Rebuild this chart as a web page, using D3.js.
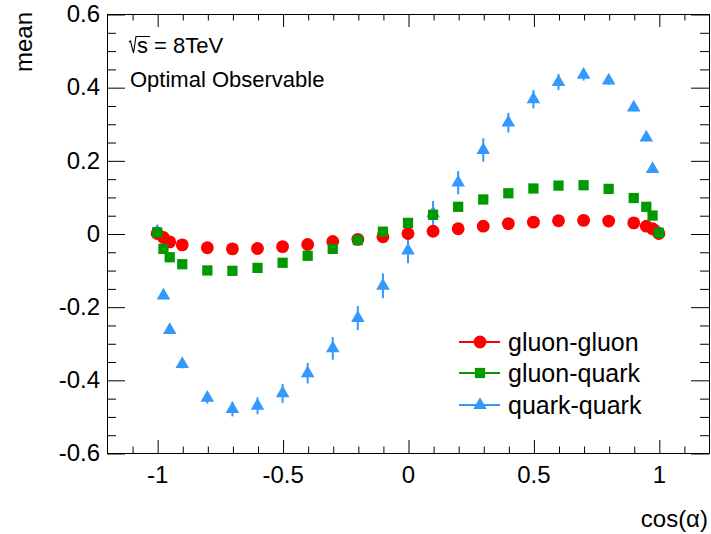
<!DOCTYPE html>
<html>
<head>
<meta charset="utf-8">
<script src="https://cdn.jsdelivr.net/npm/d3@7"></script>
<style>
  html, body { margin: 0; padding: 0; background: #fff; }
  svg { display: block; font-family: "Liberation Sans", Arial, Helvetica, sans-serif; }
</style>
</head>
<body>
<svg id="chart" width="711" height="534"></svg>
<script>
// cos(alpha) sampling points shared by all three processes
const cosAlpha = [-1, -0.975, -0.95, -0.9, -0.8, -0.7, -0.6, -0.5, -0.4, -0.3, -0.2, -0.1,
                  0, 0.1, 0.2, 0.3, 0.4, 0.5, 0.6, 0.7, 0.8, 0.9, 0.95, 0.975, 1];

// mean of the optimal observable per process
const gluonGluon = [0.000, -0.011, -0.023, -0.031, -0.039, -0.042, -0.041, -0.036, -0.030, -0.022, -0.016, -0.009,
                    0.000, 0.006, 0.013, 0.020, 0.027, 0.031, 0.035, 0.036, 0.034, 0.029, 0.020, 0.013, 0.000];
const gluonQuark = [0.003, -0.042, -0.065, -0.084, -0.101, -0.102, -0.094, -0.080, -0.061, -0.042, -0.018, 0.005,
                    0.029, 0.051, 0.073, 0.093, 0.110, 0.123, 0.131, 0.132, 0.122, 0.097, 0.073, 0.049, 0.002];
const quarkQuark = [0.005, -0.170, -0.264, -0.357, -0.449, -0.480, -0.471, -0.437, -0.382, -0.314, -0.231, -0.143,
                    -0.047, 0.055, 0.139, 0.228, 0.303, 0.367, 0.414, 0.434, 0.418, 0.344, 0.262, 0.176, 0.003];

// statistical uncertainties
const gluonGluonErr = [0.002, 0.002, 0.002, 0.002, 0.002, 0.002, 0.002, 0.002, 0.002, 0.002, 0.002, 0.002,
                       0.002, 0.002, 0.002, 0.002, 0.002, 0.002, 0.002, 0.002, 0.002, 0.002, 0.002, 0.002, 0.002];
const gluonQuarkErr = [0.004, 0.004, 0.004, 0.004, 0.004, 0.004, 0.004, 0.004, 0.004, 0.004, 0.004, 0.004,
                       0.004, 0.004, 0.004, 0.004, 0.004, 0.004, 0.004, 0.004, 0.004, 0.004, 0.004, 0.004, 0.004];
const quarkQuarkErr = [0.012, 0.010, 0.010, 0.012, 0.016, 0.020, 0.023, 0.026, 0.028, 0.031, 0.033, 0.034,
                       0.034, 0.034, 0.032, 0.032, 0.027, 0.025, 0.022, 0.016, 0.012, 0.010, 0.010, 0.010, 0.012];

const xTicks = [-1, -0.5, 0, 0.5, 1];
const xTickLabels = ["-1", "-0.5", "0", "0.5", "1"];
const yTicks = [-0.6, -0.4, -0.2, 0, 0.2, 0.4, 0.6];
const yTickLabels = ["-0.6", "-0.4", "-0.2", "0", "0.2", "0.4", "0.6"];

const seriesNames = ["gluon-gluon", "gluon-quark", "quark-quark"];
const seriesColors = ["#ff0000", "#009900", "#3399ff"];
const seriesShapes = [d3.symbolCircle, d3.symbolSquare, d3.symbolTriangle];
const seriesValues = [gluonGluon, gluonQuark, quarkQuark];
const seriesErrors = [gluonGluonErr, gluonQuarkErr, quarkQuarkErr];

const frame = { left: 107, right: 709, top: 14, bottom: 453 };

const svg = d3.select("#chart");

const x = d3.scaleLinear().domain([-1.2, 1.2]).range([frame.left, frame.right]);
const y = d3.scaleLinear().domain([-0.6, 0.6]).range([frame.bottom, frame.top]);

const xMinor = d3.range(-11, 12).map(i => i / 10).filter(v => !xTicks.some(t => Math.abs(t - v) < 1e-9));
const yMinor = d3.range(-12, 13).map(i => i / 20).filter(v => !yTicks.some(t => Math.abs(t - v) < 1e-9));

const axesG = svg.append("g");

// inward ticks on all four sides of the frame
function tickAxis(axisGen, scale, ticks, len, transform) {
  const g = axesG.append("g").attr("transform", transform)
    .call(axisGen(scale).tickValues(ticks).tickSize(len).tickFormat(""));
  g.select(".domain").remove();
  g.selectAll("line").attr("stroke", "#000").attr("stroke-width", 1);
  return g;
}

// bottom and top
tickAxis(d3.axisTop, x, xTicks, 13, `translate(0.5,${frame.bottom})`);
tickAxis(d3.axisTop, x, xMinor, 6.5, `translate(0.5,${frame.bottom})`);
tickAxis(d3.axisBottom, x, xTicks, 13, `translate(0.5,${frame.top})`);
tickAxis(d3.axisBottom, x, xMinor, 6.5, `translate(0.5,${frame.top})`);
// left and right
tickAxis(d3.axisRight, y, yTicks, 18, `translate(${frame.left},0.5)`);
tickAxis(d3.axisRight, y, yMinor, 9, `translate(${frame.left},0.5)`);
tickAxis(d3.axisLeft, y, yTicks, 18, `translate(${frame.right},0.5)`);
tickAxis(d3.axisLeft, y, yMinor, 9, `translate(${frame.right},0.5)`);

// frame box
axesG.append("rect")
  .attr("x", frame.left + 0.5).attr("y", frame.top + 0.5)
  .attr("width", frame.right - frame.left).attr("height", frame.bottom - frame.top)
  .attr("fill", "none").attr("stroke", "#000").attr("stroke-width", 1);

// tick labels
const xLab = d3.axisBottom(x).tickValues(xTicks).tickSize(0).tickPadding(13)
  .tickFormat((d, i) => xTickLabels[i]);
const gxl = svg.append("g").attr("transform", `translate(0,${frame.bottom})`).call(xLab);
gxl.select(".domain").remove();
gxl.selectAll("text").attr("font-size", 24).attr("fill", "#000")
  .attr("font-family", "Liberation Sans, Arial, sans-serif");

const yLab = d3.axisLeft(y).tickValues(yTicks).tickSize(0).tickPadding(7)
  .tickFormat((d, i) => yTickLabels[i]);
const gyl = svg.append("g").attr("transform", `translate(${frame.left},0)`).call(yLab);
gyl.select(".domain").remove();
gyl.selectAll("text").attr("font-size", 24).attr("fill", "#000")
  .attr("font-family", "Liberation Sans, Arial, sans-serif");

// axis titles
svg.append("text").attr("x", 708).attr("y", 527).attr("text-anchor", "end")
  .attr("font-size", 24).text("cos(α)");
svg.append("text").attr("transform", "translate(32,12) rotate(-90)")
  .attr("text-anchor", "end").attr("font-size", 24).text("mean");

// annotations
const sqrtG = svg.append("g").attr("transform", "translate(0,53)");
sqrtG.append("text").attr("x", 137).attr("y", 0).attr("font-size", 22).text("s = 8TeV");
sqrtG.append("path").attr("d", "M129,-11 L130.5,-12 L133.5,0 L136,-16.5 L150,-16.5")
  .attr("fill", "none").attr("stroke", "#000").attr("stroke-width", 1.1);
svg.append("text").attr("x", 130).attr("y", 87).attr("font-size", 22).text("Optimal Observable");

// data series: quark-quark first, then gluon-gluon, gluon-quark on top
const drawOrder = [2, 0, 1];
const markerSizes = [130, 105, 80];
const plot = svg.append("g");

drawOrder.forEach(s => {
  const g = plot.append("g");
  const pts = cosAlpha.map((c, i) => ({ c, v: seriesValues[s][i], e: seriesErrors[s][i] }));
  g.selectAll("line.err").data(pts).join("line")
    .attr("x1", d => x(d.c)).attr("x2", d => x(d.c))
    .attr("y1", d => y(d.v - d.e)).attr("y2", d => y(d.v + d.e))
    .attr("stroke", seriesColors[s]).attr("stroke-width", 2);
  g.selectAll("path.mk").data(pts).join("path")
    .attr("transform", d => `translate(${x(d.c)},${y(d.v)})`)
    .attr("d", d3.symbol().type(seriesShapes[s]).size(markerSizes[s]))
    .attr("fill", seriesColors[s]);
});

// legend
const legendRows = [342, 373, 405];
seriesNames.forEach((name, s) => {
  const g = svg.append("g").attr("transform", `translate(0,${legendRows[s]})`);
  g.append("line").attr("x1", 459).attr("x2", 500).attr("y1", 0).attr("y2", 0)
    .attr("stroke", seriesColors[s]).attr("stroke-width", 2);
  g.append("path").attr("transform", "translate(480,0)")
    .attr("d", d3.symbol().type(seriesShapes[s]).size(markerSizes[s]))
    .attr("fill", seriesColors[s]);
  g.append("text").attr("x", 508).attr("y", 9).attr("font-size", 25).text(name);
});
</script>
</body>
</html>
